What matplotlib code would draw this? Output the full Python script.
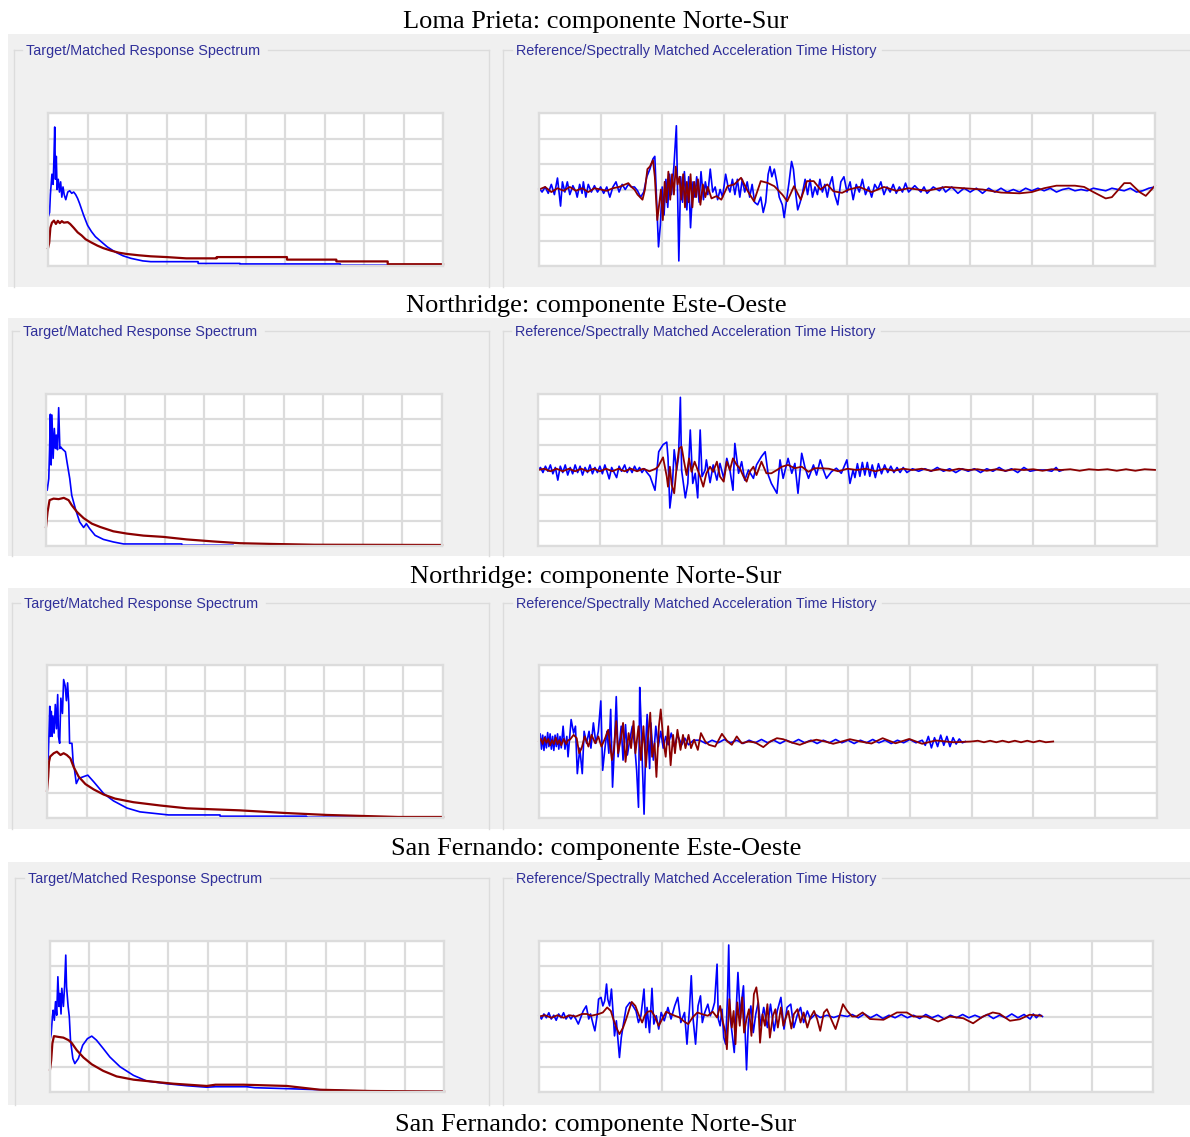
import numpy as np
import matplotlib
matplotlib.use("Agg")
import matplotlib.pyplot as plt

# ---------------- titles ----------------
record_titles = ["Loma Prieta: componente Norte-Sur",
                 "Northridge: componente Este-Oeste",
                 "Northridge: componente Norte-Sur",
                 "San Fernando: componente Este-Oeste",
                 "San Fernando: componente Norte-Sur"]
spec_label = "Target/Matched Response Spectrum"
hist_label = "Reference/Spectrally Matched Acceleration Time History"

# ---------------- response spectra (period, Sa) ----------------
lp_spec_ref = [(0.0, 1.9), (0.04, 2.1), (0.06, 2.8), (0.1, 3.6), (0.13, 3.2), (0.15, 4.2), (0.17, 5.45),
               (0.19, 3.4), (0.21, 4.3), (0.23, 3.0), (0.26, 3.4), (0.29, 2.9), (0.32, 3.3), (0.35, 2.7),
               (0.38, 3.1), (0.41, 2.8), (0.45, 2.6), (0.5, 2.9), (0.55, 2.95), (0.6, 2.85), (0.65, 2.9),
               (0.7, 2.8), (0.75, 2.65), (0.8, 2.45), (0.9, 2.0), (1.0, 1.6), (1.1, 1.35), (1.2, 1.15),
               (1.35, 0.95), (1.5, 0.75), (1.7, 0.55), (1.9, 0.4), (2.1, 0.3), (2.4, 0.2), (2.6, 0.17),
               (3.8, 0.17), (3.8, 0.1), (4.86, 0.1), (4.86, 0.08), (7.4, 0.08), (7.4, 0.03), (10.0, 0.03)]
lp_spec_match = [(0.0, 0.7), (0.03, 0.9), (0.06, 1.5), (0.1, 1.7), (0.15, 1.78), (0.2, 1.65), (0.25, 1.77),
                 (0.3, 1.68), (0.35, 1.76), (0.4, 1.7), (0.5, 1.72), (0.56, 1.65), (0.65, 1.5), (0.75, 1.32),
                 (0.85, 1.2), (0.95, 1.05), (1.1, 0.92), (1.25, 0.8), (1.4, 0.7), (1.6, 0.6), (1.8, 0.52),
                 (2.0, 0.47), (2.3, 0.42), (2.6, 0.38), (3.0, 0.35), (3.5, 0.3), (4.27, 0.3), (4.27, 0.35),
                 (6.05, 0.35), (6.05, 0.25), (7.3, 0.25), (7.3, 0.18), (8.6, 0.18), (8.6, 0.07), (10.0, 0.07)]

nre_spec_ref = [(0.0, 2.47), (0.03, 2.2), (0.07, 2.66), (0.09, 3.79), (0.11, 5.2), (0.13, 3.2), (0.15, 5.17),
                (0.18, 3.46), (0.21, 4.64), (0.24, 3.85), (0.26, 4.38), (0.29, 3.8), (0.32, 5.46),
                (0.35, 3.85), (0.38, 3.9), (0.4, 3.85), (0.49, 3.72), (0.53, 3.32), (0.6, 2.66), (0.65, 2.0),
                (0.74, 1.48), (0.85, 0.95), (0.95, 0.73), (1.02, 0.88), (1.1, 0.69), (1.24, 0.42),
                (1.45, 0.26), (1.7, 0.16), (1.96, 0.08), (3.43, 0.08), (3.43, 0.03), (4.73, 0.03),
                (4.73, 0.0), (10.0, 0.0)]
nre_spec_match = [(0.0, 0.75), (0.04, 1.35), (0.09, 1.81), (0.19, 1.87), (0.32, 1.85), (0.45, 1.9),
                  (0.57, 1.81), (0.65, 1.61), (0.78, 1.35), (0.95, 1.1), (1.16, 0.88), (1.37, 0.75),
                  (1.7, 0.58), (2.04, 0.49), (2.46, 0.41), (2.96, 0.36), (3.55, 0.26), (4.22, 0.18),
                  (4.9, 0.11), (5.73, 0.08), (6.78, 0.05), (10.0, 0.04)]

nrn_spec_ref = [(0.0, 2.2), (0.03, 2.3), (0.07, 4.38), (0.08, 3.2), (0.11, 4.18), (0.13, 3.2), (0.15, 4.0),
                (0.18, 3.33), (0.21, 4.45), (0.24, 3.5), (0.27, 4.84), (0.29, 3.2), (0.32, 2.93),
                (0.35, 4.7), (0.39, 4.1), (0.42, 5.43), (0.46, 5.17), (0.49, 4.6), (0.52, 5.3), (0.55, 4.45),
                (0.57, 2.93), (0.63, 2.93), (0.66, 2.2), (0.69, 1.95), (0.74, 1.35), (0.8, 1.55),
                (0.92, 1.62), (1.03, 1.68), (1.18, 1.42), (1.43, 0.96), (1.68, 0.67), (2.02, 0.39),
                (2.35, 0.24), (2.77, 0.17), (3.07, 0.12), (4.37, 0.12), (4.37, 0.07), (6.55, 0.07),
                (6.55, 0.03), (10.0, 0.03)]
nrn_spec_match = [(0.0, 1.07), (0.03, 1.62), (0.05, 2.2), (0.08, 2.41), (0.17, 2.54), (0.25, 2.6),
                  (0.34, 2.47), (0.42, 2.54), (0.5, 2.47), (0.59, 2.34), (0.67, 2.01), (0.8, 1.62),
                  (0.97, 1.33), (1.18, 1.12), (1.43, 0.92), (1.72, 0.76), (2.18, 0.62), (2.86, 0.49),
                  (3.53, 0.38), (4.87, 0.3), (5.97, 0.2), (7.06, 0.12), (8.87, 0.04), (10.0, 0.04)]

sfe_spec_ref = [(0.0, 2.06), (0.03, 2.3), (0.06, 2.99), (0.08, 3.25), (0.11, 2.85), (0.14, 3.59), (0.17, 3.05),
                (0.2, 4.58), (0.23, 3.4), (0.25, 3.92), (0.28, 3.1), (0.3, 4.12), (0.34, 3.4), (0.37, 4.18),
                (0.4, 5.44), (0.42, 4.18), (0.46, 3.4), (0.49, 2.99), (0.52, 2.06), (0.58, 1.33),
                (0.63, 1.13), (0.72, 1.33), (0.83, 1.86), (0.95, 2.12), (1.06, 2.22), (1.18, 2.06),
                (1.35, 1.73), (1.52, 1.39), (1.78, 1.0), (2.12, 0.66), (2.45, 0.44), (2.96, 0.33),
                (3.47, 0.25), (3.98, 0.19), (4.2, 0.21), (4.99, 0.21), (5.2, 0.17), (6.09, 0.13),
                (7.19, 0.07), (8.16, 0.01), (10.0, 0.01)]
sfe_spec_match = [(0.0, 0.89), (0.03, 1.26), (0.06, 1.93), (0.1, 2.22), (0.21, 2.19), (0.34, 2.16),
                  (0.47, 2.06), (0.55, 1.95), (0.68, 1.66), (0.85, 1.37), (1.06, 1.1), (1.35, 0.84),
                  (1.69, 0.62), (2.12, 0.49), (2.62, 0.41), (3.13, 0.33), (3.98, 0.24), (4.2, 0.29),
                  (4.91, 0.29), (6.01, 0.24), (6.85, 0.09), (8.12, 0.04), (10.0, 0.02)]

# ---------------- acceleration time histories (time, acc) ----------------
lp_hist_ref = [(0.0, 0.05), (0.05, -0.1), (0.1, 0.1), (0.15, -0.15), (0.2, 0.2), (0.25, -0.2), (0.3, 0.45),
               (0.33, -0.2), (0.35, -0.65), (0.38, 0.3), (0.42, -0.1), (0.46, 0.3), (0.5, -0.2), (0.55, 0.15),
               (0.6, -0.1), (0.62, -0.3), (0.66, 0.2), (0.7, -0.15), (0.72, 0.3), (0.76, -0.3), (0.8, 0.2),
               (0.85, -0.1), (0.9, 0.15), (0.95, -0.1), (1.0, 0.1), (1.05, -0.15), (1.1, 0.1), (1.15, -0.3),
               (1.2, 0.1), (1.25, 0.3), (1.3, -0.1), (1.35, 0.2), (1.4, 0.0), (1.45, 0.2), (1.5, 0.1),
               (1.55, 0.1), (1.6, -0.05), (1.65, -0.3), (1.7, -0.1), (1.75, 0.5), (1.8, 0.8), (1.85, 1.2),
               (1.88, 1.3), (1.91, -0.5), (1.94, -2.25), (1.97, -1.4), (2.0, 0.1), (2.03, -1.0), (2.06, 0.4),
               (2.09, -0.7), (2.12, 0.6), (2.15, -0.2), (2.19, 0.9), (2.23, 2.5), (2.27, -2.8), (2.3, 0.5),
               (2.33, -0.5), (2.36, 0.7), (2.4, -0.8), (2.43, 0.5), (2.46, -1.5), (2.5, 0.3), (2.53, -0.3),
               (2.56, 0.5), (2.6, -0.5), (2.63, 0.7), (2.67, -0.4), (2.7, 0.3), (2.74, -0.2), (2.78, 0.8),
               (2.82, -0.1), (2.86, 0.1), (2.9, -0.4), (2.94, 0.0), (2.98, -0.3), (3.03, 0.6), (3.07, 0.1),
               (3.1, -0.1), (3.14, 0.4), (3.18, -0.2), (3.22, 0.4), (3.26, -0.3), (3.3, 0.4), (3.34, -0.1),
               (3.38, 0.3), (3.42, -0.3), (3.46, 0.2), (3.5, -0.5), (3.55, -0.6), (3.6, -0.3), (3.64, -0.9),
               (3.68, -0.5), (3.72, 0.6), (3.75, 0.9), (3.78, 0.5), (3.82, 0.8), (3.86, 0.3), (3.9, -0.3),
               (3.95, -0.6), (3.98, -1.1), (4.02, -0.4), (4.06, 0.3), (4.1, 1.1), (4.13, 0.8), (4.17, -0.2),
               (4.2, -0.8), (4.24, -0.5), (4.28, -0.1), (4.32, 0.4), (4.36, -0.2), (4.4, 0.4), (4.44, -0.3),
               (4.48, 0.1), (4.52, -0.2), (4.56, 0.4), (4.6, -0.1), (4.64, 0.2), (4.68, -0.3), (4.72, 0.2),
               (4.76, 0.5), (4.8, -0.2), (4.85, -0.6), (4.9, 0.3), (4.95, 0.5), (5.0, -0.1), (5.05, 0.3),
               (5.1, -0.4), (5.15, 0.2), (5.2, -0.1), (5.25, 0.4), (5.3, -0.2), (5.35, 0.1), (5.4, -0.3),
               (5.45, 0.2), (5.5, 0.0), (5.55, 0.3), (5.6, -0.2), (5.65, 0.1), (5.7, -0.1), (5.75, 0.2),
               (5.8, -0.15), (5.85, 0.1), (5.9, -0.1), (5.95, 0.25), (6.0, -0.1), (6.1, 0.15), (6.2, -0.1),
               (6.25, 0.1), (6.3, -0.15), (6.4, 0.1), (6.5, -0.05), (6.55, 0.1), (6.6, -0.1), (6.7, 0.1),
               (6.8, -0.15), (6.9, 0.05), (7.0, -0.1), (7.1, 0.05), (7.2, -0.15), (7.3, 0.05), (7.4, -0.1),
               (7.5, 0.05), (7.6, -0.1), (7.7, 0.0), (7.8, -0.1), (7.9, 0.05), (8.0, -0.05), (8.1, 0.05),
               (8.2, -0.05), (8.3, 0.05), (8.4, -0.1), (8.5, 0.0), (8.6, 0.05), (8.7, -0.05), (8.8, 0.0),
               (8.9, -0.05), (9.0, 0.05), (9.1, 0.0), (9.2, -0.05), (9.3, 0.05), (9.4, 0.0), (9.5, -0.05),
               (9.6, 0.05), (9.7, -0.1), (9.8, -0.05), (9.9, 0.05), (10.0, 0.1)]
lp_hist_match = [(0.0, 0.0), (0.1, 0.1), (0.2, -0.1), (0.3, 0.05), (0.4, -0.05), (0.5, 0.1), (0.6, -0.05),
                 (0.7, 0.05), (0.8, -0.1), (0.9, 0.05), (1.0, 0.0), (1.1, -0.05), (1.2, 0.05), (1.3, 0.1),
                 (1.4, 0.2), (1.45, 0.25), (1.5, 0.1), (1.55, 0.0), (1.6, -0.2), (1.68, -0.4), (1.72, 0.0),
                 (1.76, 0.8), (1.8, 0.9), (1.85, 1.15), (1.88, 0.5), (1.92, -1.2), (1.95, -0.6), (1.98, 0.0),
                 (2.01, -1.2), (2.04, 0.3), (2.07, -0.5), (2.1, 0.7), (2.13, -0.4), (2.16, 0.6), (2.19, -0.2),
                 (2.22, 0.9), (2.25, 0.2), (2.28, 0.5), (2.31, -0.4), (2.34, 0.6), (2.37, -0.7), (2.4, 0.3),
                 (2.43, -0.5), (2.46, 0.6), (2.49, -0.7), (2.52, 0.3), (2.55, -0.3), (2.58, 0.4), (2.62, -0.6),
                 (2.66, 0.2), (2.7, -0.3), (2.74, 0.1), (2.8, -0.35), (2.88, -0.26), (2.96, -0.4), (3.06, 0.13),
                 (3.17, 0.2), (3.28, 0.46), (3.39, -0.07), (3.49, -0.46), (3.6, 0.33), (3.71, 0.26),
                 (3.82, 0.13), (3.95, -0.2), (4.03, -0.46), (4.14, 0.13), (4.25, -0.4), (4.35, 0.33),
                 (4.46, 0.33), (4.57, 0.0), (4.68, 0.2), (4.78, -0.07), (4.92, -0.13), (5.03, 0.0),
                 (5.2, 0.1), (5.4, -0.1), (5.6, 0.1), (5.8, -0.05), (6.0, 0.05), (6.3, -0.05), (6.6, 0.1),
                 (6.9, 0.05), (7.2, 0.0), (7.5, -0.12), (7.8, -0.15), (8.0, -0.1), (8.2, 0.05), (8.4, 0.15),
                 (8.7, 0.15), (8.85, 0.1), (9.0, -0.1), (9.2, -0.35), (9.3, -0.3), (9.5, 0.25), (9.6, 0.25),
                 (9.75, -0.1), (9.85, -0.25), (10.0, 0.15)]

nre_hist_ref = [(0.0, 0.0), (0.04, 0.1), (0.08, -0.1), (0.12, 0.15), (0.16, -0.05), (0.2, 0.2), (0.24, -0.15),
                (0.28, 0.1), (0.32, -0.4), (0.36, 0.15), (0.4, -0.1), (0.44, 0.2), (0.48, -0.2), (0.52, 0.1),
                (0.56, -0.15), (0.6, 0.2), (0.64, -0.1), (0.68, 0.15), (0.72, -0.2), (0.76, 0.1), (0.8, -0.1),
                (0.84, 0.2), (0.88, -0.15), (0.92, 0.1), (0.96, -0.1), (1.0, 0.15), (1.04, -0.15), (1.08, 0.2),
                (1.12, -0.1), (1.15, -0.35), (1.19, 0.1), (1.23, -0.1), (1.27, -0.3), (1.31, 0.15),
                (1.35, -0.05), (1.4, 0.2), (1.44, -0.1), (1.48, 0.1), (1.52, -0.1), (1.56, 0.15), (1.6, -0.05),
                (1.64, 0.1), (1.68, -0.1), (1.72, 0.05), (1.76, -0.1), (1.81, -0.25), (1.89, -0.8),
                (1.95, 0.72), (2.02, 1.0), (2.08, 1.1), (2.1, 0.5), (2.13, -1.5), (2.17, -0.66), (2.2, 0.8),
                (2.24, 0.0), (2.27, 0.5), (2.3, 2.87), (2.32, 0.0), (2.38, -1.1), (2.42, -0.53), (2.46, 1.58),
                (2.5, -0.53), (2.54, -0.13), (2.58, -1.1), (2.62, 1.58), (2.65, -0.26), (2.7, 0.0),
                (2.72, 0.4), (2.78, -0.5), (2.83, 0.2), (2.89, -0.4), (2.94, 0.26), (3.0, -0.33),
                (3.05, 0.46), (3.1, 0.0), (3.15, -0.8), (3.18, 1.05), (3.24, -0.13), (3.29, 0.33),
                (3.34, -0.4), (3.4, 0.0), (3.48, -0.33), (3.53, 0.2), (3.61, 0.53), (3.67, 0.72),
                (3.72, -0.2), (3.77, -0.53), (3.86, -0.92), (3.91, 0.4), (3.96, -0.33), (4.04, 0.46),
                (4.1, -0.13), (4.15, 0.26), (4.2, -0.92), (4.26, 0.66), (4.31, 0.13), (4.37, -0.33),
                (4.45, 0.2), (4.5, -0.2), (4.56, 0.4), (4.61, 0.0), (4.66, -0.33), (4.74, -0.07),
                (4.82, 0.07), (4.9, -0.13), (4.99, 0.4), (5.04, -0.53), (5.09, 0.0), (5.12, -0.3),
                (5.16, 0.25), (5.2, -0.25), (5.24, 0.3), (5.28, -0.2), (5.32, 0.3), (5.36, -0.25),
                (5.4, 0.2), (5.45, -0.3), (5.5, 0.25), (5.55, -0.15), (5.6, 0.2), (5.65, -0.1), (5.7, 0.15),
                (5.75, -0.1), (5.8, 0.1), (5.85, -0.1), (5.9, 0.1), (5.96, -0.1), (6.05, 0.05), (6.15, -0.05),
                (6.25, 0.05), (6.35, -0.05), (6.45, 0.1), (6.55, -0.05), (6.65, 0.05), (6.75, -0.1),
                (6.85, 0.05), (6.95, -0.05), (7.05, 0.05), (7.15, -0.1), (7.25, 0.05), (7.35, -0.05),
                (7.45, 0.1), (7.55, -0.05), (7.65, 0.05), (7.75, -0.1), (7.85, 0.1), (7.95, -0.05),
                (8.05, 0.0), (8.2, 0.0), (8.3, -0.05), (8.37, 0.1), (8.42, -0.05), (8.48, 0.0)]
nre_hist_match = [(0.0, 0.0), (0.1, 0.05), (0.2, -0.05), (0.3, 0.05), (0.4, -0.05), (0.5, 0.05), (0.6, -0.05),
                  (0.7, 0.05), (0.8, -0.05), (0.9, 0.05), (1.0, -0.05), (1.1, 0.05), (1.2, -0.05), (1.3, 0.05),
                  (1.4, -0.05), (1.5, 0.05), (1.6, -0.05), (1.7, 0.05), (1.8, -0.05), (1.9, 0.05),
                  (1.94, 0.13), (2.02, 0.5), (2.08, -0.26), (2.1, -0.66), (2.13, 0.13), (2.16, -0.59),
                  (2.2, -0.92), (2.24, 0.13), (2.28, 0.85), (2.32, 0.92), (2.36, 0.33), (2.4, -0.2),
                  (2.44, 0.46), (2.48, -0.07), (2.53, 0.33), (2.56, 0.13), (2.62, -0.26), (2.67, -0.66),
                  (2.72, -0.13), (2.78, 0.13), (2.83, -0.07), (2.89, 0.33), (2.94, -0.26), (3.0, -0.46),
                  (3.05, 0.33), (3.1, 0.0), (3.15, 0.46), (3.21, 0.2), (3.26, 0.07), (3.32, -0.26),
                  (3.37, -0.46), (3.42, -0.07), (3.48, 0.13), (3.53, -0.2), (3.61, 0.33), (3.69, -0.13),
                  (3.77, -0.13), (3.86, 0.0), (3.94, 0.13), (4.04, 0.2), (4.15, 0.07), (4.26, 0.13),
                  (4.37, -0.07), (4.47, 0.07), (4.58, 0.07), (4.7, 0.05), (4.85, -0.05), (5.0, 0.05),
                  (5.15, 0.0), (5.3, 0.05), (5.45, -0.05), (5.6, 0.05), (5.75, -0.03), (5.9, 0.05),
                  (6.05, 0.0), (6.2, 0.05), (6.35, -0.03), (6.5, 0.03), (6.65, -0.03), (6.8, 0.05),
                  (6.95, 0.0), (7.1, 0.03), (7.25, -0.03), (7.4, 0.03), (7.55, -0.03), (7.7, 0.03),
                  (7.85, 0.0), (8.0, 0.03), (8.15, -0.03), (8.3, 0.03), (8.45, 0.0), (8.6, 0.03),
                  (8.75, -0.03), (8.9, 0.03), (9.05, 0.0), (9.2, 0.03), (9.35, -0.03), (9.5, 0.03),
                  (9.65, -0.03), (9.8, 0.03), (10.0, 0.0)]

nrn_hist_ref = [(0.0, 0.0), (0.02, 0.3), (0.04, -0.3), (0.06, 0.25), (0.08, -0.35), (0.1, 0.2), (0.12, -0.25),
                (0.14, 0.35), (0.16, -0.2), (0.18, 0.3), (0.2, -0.3), (0.22, 0.2), (0.24, -0.35), (0.26, 0.25),
                (0.28, -0.2), (0.3, 0.3), (0.32, -0.3), (0.34, 0.2), (0.36, -0.25), (0.39, 0.6), (0.42, -0.3),
                (0.45, 0.2), (0.47, -0.6), (0.52, 0.86), (0.56, 0.33), (0.59, 0.6), (0.62, -1.26),
                (0.66, -0.26), (0.7, -1.26), (0.73, 0.4), (0.77, -0.07), (0.81, 0.4), (0.84, -0.26),
                (0.88, 0.73), (0.92, -0.07), (0.96, 0.4), (1.0, 1.59), (1.03, -1.13), (1.07, -0.2),
                (1.1, 0.4), (1.13, -0.46), (1.16, 1.26), (1.19, -1.79), (1.22, -0.2), (1.25, 1.76),
                (1.28, -0.6), (1.33, 0.6), (1.36, -0.73), (1.4, 0.66), (1.43, -0.53), (1.47, 0.07),
                (1.51, 0.6), (1.55, -0.2), (1.58, -1.13), (1.61, -2.58), (1.63, 2.12), (1.65, 0.86),
                (1.67, -0.73), (1.7, -2.85), (1.73, 0.07), (1.75, 1.06), (1.79, -1.06), (1.81, 0.73),
                (1.85, -0.73), (1.89, 0.6), (1.93, -0.2), (1.97, 0.4), (2.01, -0.26), (2.05, 0.2),
                (2.09, -0.13), (2.14, 0.33), (2.19, -0.2), (2.24, 0.26), (2.31, -0.13), (2.36, 0.13),
                (2.42, -0.13), (2.5, 0.05), (2.6, 0.05), (2.7, -0.08), (2.8, 0.05), (2.9, -0.05), (3.0, 0.08),
                (3.1, -0.05), (3.2, 0.05), (3.3, -0.08), (3.4, 0.05), (3.5, -0.05), (3.6, 0.08), (3.7, -0.05),
                (3.8, 0.05), (3.9, -0.08), (4.0, 0.05), (4.1, -0.05), (4.2, 0.08), (4.3, -0.05), (4.4, 0.05),
                (4.5, -0.08), (4.6, 0.05), (4.7, -0.05), (4.8, 0.08), (4.9, -0.05), (5.0, 0.05), (5.1, -0.08),
                (5.2, 0.05), (5.3, -0.05), (5.4, 0.08), (5.5, -0.05), (5.6, 0.05), (5.7, -0.08), (5.8, 0.05),
                (5.9, -0.05), (6.0, 0.08), (6.1, -0.05), (6.2, 0.05), (6.25, -0.15), (6.3, 0.2),
                (6.35, -0.25), (6.4, 0.15), (6.45, -0.2), (6.5, 0.25), (6.55, -0.15), (6.6, 0.2),
                (6.65, -0.2), (6.7, 0.15), (6.75, -0.1), (6.8, 0.1), (6.85, -0.05), (6.9, 0.0)]
nrn_hist_match = [(0.0, 0.0), (0.03, 0.1), (0.06, -0.1), (0.09, 0.15), (0.12, -0.05), (0.15, 0.1), (0.18, -0.15),
                  (0.21, 0.05), (0.24, -0.1), (0.27, 0.15), (0.3, -0.1), (0.33, 0.05), (0.36, -0.15),
                  (0.4, 0.1), (0.44, -0.1), (0.47, 0.05), (0.5, 0.07), (0.56, 0.26), (0.61, 0.13),
                  (0.65, -0.46), (0.69, -0.26), (0.74, 0.2), (0.8, -0.2), (0.85, 0.26), (0.91, -0.07),
                  (0.96, 0.2), (1.01, -0.2), (1.07, 0.13), (1.12, 0.46), (1.18, -0.73), (1.21, -0.33),
                  (1.25, 0.8), (1.28, -0.46), (1.33, 0.2), (1.36, 0.73), (1.4, -0.8), (1.45, 0.33),
                  (1.49, -0.26), (1.53, 0.8), (1.56, -0.46), (1.61, 0.6), (1.65, -0.73), (1.69, 0.6),
                  (1.73, -1.0), (1.76, 0.07), (1.8, 1.13), (1.83, -0.6), (1.87, -0.07), (1.9, -1.39),
                  (1.94, 0.6), (1.97, 1.26), (2.01, 0.07), (2.05, -0.6), (2.09, 0.6), (2.13, -0.93),
                  (2.17, 0.26), (2.2, -0.46), (2.24, 0.46), (2.29, -0.33), (2.33, 0.26), (2.37, -0.26),
                  (2.42, 0.26), (2.46, -0.26), (2.51, 0.07), (2.57, -0.33), (2.62, 0.33), (2.69, 0.0),
                  (2.75, -0.13), (2.85, -0.2), (2.96, 0.3), (3.05, 0.0), (3.12, -0.13), (3.2, 0.2),
                  (3.28, -0.07), (3.39, 0.0), (3.5, -0.04), (3.63, -0.22), (3.74, 0.0), (3.85, 0.13),
                  (3.95, 0.09), (4.09, -0.04), (4.22, -0.13), (4.36, 0.0), (4.49, 0.07), (4.63, 0.0),
                  (4.76, -0.09), (4.9, 0.0), (5.03, 0.09), (5.2, 0.0), (5.38, -0.08), (5.56, 0.13),
                  (5.77, -0.07), (5.99, 0.1), (6.2, -0.09), (6.42, 0.04), (6.71, -0.03), (7.0, 0.0),
                  (7.1, 0.03), (7.2, -0.03), (7.3, 0.03), (7.4, -0.03), (7.5, 0.03), (7.6, -0.03),
                  (7.7, 0.03), (7.8, -0.03), (7.9, 0.03), (8.0, -0.03), (8.1, 0.03), (8.2, -0.03),
                  (8.32, 0.0)]

sfe_hist_ref = [(0.0, 0.05), (0.04, -0.1), (0.08, 0.1), (0.12, -0.05), (0.16, 0.15), (0.2, -0.1), (0.24, 0.05),
                (0.28, -0.15), (0.32, 0.1), (0.36, -0.05), (0.4, 0.15), (0.44, -0.1), (0.48, 0.05),
                (0.52, -0.1), (0.56, 0.05), (0.6, -0.1), (0.64, -0.3), (0.72, 0.22), (0.77, 0.42),
                (0.81, -0.1), (0.84, 0.1), (0.88, -0.3), (0.91, -0.57), (0.95, 0.1), (0.97, 0.69),
                (1.01, 0.76), (1.04, 0.42), (1.07, 0.62), (1.1, 1.29), (1.12, 0.69), (1.15, 0.42),
                (1.18, 1.09), (1.21, 0.03), (1.23, -0.77), (1.26, -0.17), (1.29, -1.04), (1.31, -1.63),
                (1.34, -0.84), (1.37, -0.37), (1.42, 0.36), (1.48, 0.56), (1.53, 0.42), (1.58, 0.22),
                (1.62, -0.24), (1.66, 0.03), (1.71, 1.09), (1.74, -0.44), (1.76, 0.36), (1.8, -0.64),
                (1.84, 1.12), (1.87, -0.3), (1.91, 0.03), (1.95, -0.5), (1.99, 0.16), (2.04, -0.17),
                (2.1, 0.36), (2.15, -0.1), (2.21, 0.42), (2.26, 0.76), (2.31, -0.24), (2.37, 0.16),
                (2.41, -1.1), (2.45, 0.29), (2.48, 1.62), (2.51, -0.1), (2.55, -1.1), (2.59, 0.42),
                (2.63, 0.82), (2.66, -0.24), (2.7, 0.16), (2.75, 0.49), (2.79, 0.03), (2.83, 0.29),
                (2.86, 0.56), (2.9, 2.08), (2.92, -0.1), (2.95, -0.37), (2.98, 0.29), (3.01, -0.84),
                (3.04, -1.1), (3.07, 0.82), (3.09, 2.84), (3.11, 0.03), (3.15, -0.77), (3.18, -1.43),
                (3.21, 0.16), (3.24, 1.75), (3.28, -0.1), (3.3, 0.62), (3.33, 1.22), (3.36, -0.77),
                (3.38, -2.12), (3.41, -0.24), (3.45, 0.42), (3.49, -0.64), (3.53, 0.09), (3.57, 0.56),
                (3.61, -0.37), (3.66, 0.36), (3.72, -0.44), (3.77, 0.49), (3.83, -0.57), (3.88, 0.22),
                (3.94, 0.76), (3.99, -0.5), (4.04, 0.36), (4.1, 0.49), (4.15, -0.44), (4.21, 0.09),
                (4.26, 0.36), (4.31, -0.24), (4.37, 0.22), (4.42, -0.1), (4.5, 0.09), (4.58, -0.04),
                (4.69, 0.05), (4.8, -0.04), (4.91, 0.05), (5.02, 0.0), (5.1, 0.08), (5.2, -0.05),
                (5.3, 0.1), (5.4, -0.05), (5.5, 0.08), (5.6, -0.08), (5.7, 0.05), (5.8, -0.05), (5.9, 0.08),
                (6.0, -0.05), (6.1, 0.05), (6.2, -0.08), (6.3, 0.08), (6.4, -0.05), (6.5, 0.05), (6.6, -0.1),
                (6.7, 0.05), (6.8, -0.05), (6.9, 0.08), (7.0, -0.05), (7.1, 0.05), (7.2, -0.05), (7.3, 0.08),
                (7.4, -0.08), (7.5, 0.05), (7.6, -0.05), (7.7, 0.1), (7.8, -0.05), (7.9, 0.08), (8.0, -0.1),
                (8.05, 0.1), (8.1, -0.05), (8.15, 0.08), (8.2, 0.0)]
sfe_hist_match = [(0.0, 0.0), (0.1, 0.05), (0.2, -0.05), (0.3, 0.05), (0.4, -0.05), (0.5, 0.05), (0.6, 0.0),
                  (0.7, 0.1), (0.78, 0.1), (0.85, 0.03), (0.96, 0.09), (1.04, 0.16), (1.11, 0.36),
                  (1.17, 0.22), (1.21, -0.1), (1.26, -0.44), (1.31, -0.7), (1.37, -0.44), (1.42, -0.1),
                  (1.48, 0.36), (1.51, 0.58), (1.57, 0.42), (1.62, 0.09), (1.68, -0.24), (1.72, 0.03),
                  (1.77, 0.19), (1.83, 0.22), (1.88, 0.03), (1.95, -0.37), (2.02, -0.04), (2.07, 0.19),
                  (2.12, 0.13), (2.21, 0.03), (2.29, -0.04), (2.37, -0.21), (2.43, -0.3), (2.5, -0.04),
                  (2.58, 0.16), (2.66, 0.09), (2.75, 0.03), (2.83, 0.19), (2.9, -0.04), (2.95, 0.42),
                  (2.99, -0.17), (3.03, -0.57), (3.06, -1.3), (3.1, 0.69), (3.14, -0.44), (3.17, 0.22),
                  (3.2, -1.1), (3.23, 0.56), (3.27, -0.37), (3.31, 0.76), (3.34, -0.64), (3.38, -0.1),
                  (3.42, 0.29), (3.46, -0.77), (3.5, 0.89), (3.54, 1.16), (3.57, 0.56), (3.6, -1.04),
                  (3.64, 0.09), (3.68, -0.37), (3.72, 0.49), (3.76, -0.84), (3.81, 0.03), (3.85, 0.29),
                  (3.89, -0.44), (3.94, 0.36), (3.98, -0.37), (4.02, -0.04), (4.06, 0.22), (4.11, -0.48),
                  (4.15, 0.09), (4.21, 0.29), (4.26, -0.24), (4.31, 0.16), (4.37, -0.44), (4.42, -0.04),
                  (4.48, 0.22), (4.53, -0.1), (4.58, -0.57), (4.64, 0.16), (4.69, 0.29), (4.77, -0.17),
                  (4.83, -0.5), (4.88, -0.1), (4.95, 0.49), (5.02, 0.22), (5.1, 0.0), (5.17, 0.0),
                  (5.27, 0.16), (5.39, -0.1), (5.61, -0.13), (5.83, 0.16), (5.99, 0.16), (6.1, 0.0),
                  (6.31, 0.0), (6.5, -0.2), (6.69, 0.0), (6.91, -0.07), (7.07, -0.27), (7.23, 0.0),
                  (7.39, 0.16), (7.5, 0.11), (7.67, -0.17), (7.83, -0.11), (7.99, 0.07), (8.18, 0.03)]

records = [
    (lp_spec_ref, lp_spec_match, lp_hist_ref, lp_hist_match),
    (nre_spec_ref, nre_spec_match, nre_hist_ref, nre_hist_match),
    (nrn_spec_ref, nrn_spec_match, nrn_hist_ref, nrn_hist_match),
    (sfe_spec_ref, sfe_spec_match, sfe_hist_ref, sfe_hist_match),
]

# ---------------- layout (pixel positions) ----------------
W, H = 1190, 1137
title_y = [22, 306, 577, 849, 1125]
rows = [
    dict(band=(34, 287), box_top=50, lbox=(14, 489), ltx=26, rtx=516, spec=(48, 113, 443, 266), hist=(539, 113, 1155, 266)),
    dict(band=(318, 556), box_top=331, lbox=(12, 489), ltx=23, rtx=515, spec=(46, 394, 442, 546), hist=(538, 394, 1157, 546)),
    dict(band=(588, 829), box_top=603, lbox=(12, 489), ltx=24, rtx=516, spec=(47, 665, 443, 818), hist=(539, 665, 1157, 818)),
    dict(band=(862, 1105), box_top=878, lbox=(15, 489), ltx=28, rtx=516, spec=(50, 941, 444, 1092), hist=(539, 941, 1153, 1092)),
]
rbox_x = 503

BAND = "#F0F0F0"
BOXLINE = "#DCDCDC"
GRID = "#DCDCDC"
BLUE = "#0000FF"
RED = "#8B0000"
LABEL = "#30309A"

fig = plt.figure(figsize=(W / 100, H / 100), dpi=100)
fig.patch.set_facecolor("white")
bg = fig.add_axes([0, 0, 1, 1], zorder=0)
bg.set_xlim(0, W)
bg.set_ylim(H, 0)
bg.axis("off")

for i, t in enumerate(record_titles):
    bg.text(596, title_y[i], t, ha="center", va="center", fontsize=19,
            family="Liberation Serif", color="black")


def rect_of(box):
    x0, y0, x1, y1 = box
    return [x0 / W, 1 - y1 / H, (x1 - x0) / W, (y1 - y0) / H]


def style_axes(ax, xmax, ymin, ymax, nx, ny):
    ax.set_facecolor("white")
    ax.set_xlim(0, xmax)
    ax.set_ylim(ymin, ymax)
    ax.set_xticks(np.linspace(0, xmax, nx + 1))
    ax.set_yticks(np.linspace(ymin, ymax, ny + 1))
    ax.grid(True, color=GRID, linewidth=1.6)
    ax.tick_params(length=0, labelbottom=False, labelleft=False)
    for s in ax.spines.values():
        s.set_color(GRID)
        s.set_linewidth(1.6)
    ax.set_axisbelow(True)


for r, (sref, smat, href, hmat) in zip(rows, records):
    b0, b1 = r["band"]
    bg.add_patch(plt.Rectangle((8, b0), W - 8, b1 - b0, facecolor=BAND, edgecolor="none"))
    yt = r["box_top"]
    lx0, lx1 = r["lbox"]
    # left group box
    bg.text(r["ltx"], yt + 1, spec_label, ha="left", va="center", fontsize=10.4,
            family="Liberation Sans", color=LABEL)
    bg.plot([lx0, lx0], [yt, b1], color=BOXLINE, lw=1.0)
    bg.plot([lx1, lx1], [yt, b1], color=BOXLINE, lw=1.0)
    bg.plot([lx0, r["ltx"] - 4], [yt, yt], color=BOXLINE, lw=1.0)
    bg.plot([r["ltx"] + 242, lx1], [yt, yt], color=BOXLINE, lw=1.0)
    # right group box
    bg.text(r["rtx"], yt + 1, hist_label, ha="left", va="center", fontsize=10.4,
            family="Liberation Sans", color=LABEL)
    bg.plot([rbox_x, rbox_x], [yt, b1], color=BOXLINE, lw=1.0)
    bg.plot([rbox_x, r["rtx"] - 4], [yt, yt], color=BOXLINE, lw=1.0)
    bg.plot([r["rtx"] + 366, W], [yt, yt], color=BOXLINE, lw=1.0)

    # spectrum
    ax = fig.add_axes(rect_of(r["spec"]), zorder=2)
    style_axes(ax, 10, 0, 6, 10, 6)
    sr = np.array(sref).T
    sm = np.array(smat).T
    ax.plot(sr[0], sr[1], color=BLUE, lw=1.2, clip_on=False)
    ax.plot(sm[0], sm[1], color=RED, lw=1.6, clip_on=False)

    # time history
    ax2 = fig.add_axes(rect_of(r["hist"]), zorder=2)
    style_axes(ax2, 10, -3, 3, 10, 6)
    hr = np.array(href).T
    hm = np.array(hmat).T
    ax2.plot(hr[0], hr[1], color=BLUE, lw=1.2, clip_on=False)
    ax2.plot(hm[0], hm[1], color=RED, lw=1.3, clip_on=False)

fig.savefig("out.png", dpi=100, facecolor="white")
